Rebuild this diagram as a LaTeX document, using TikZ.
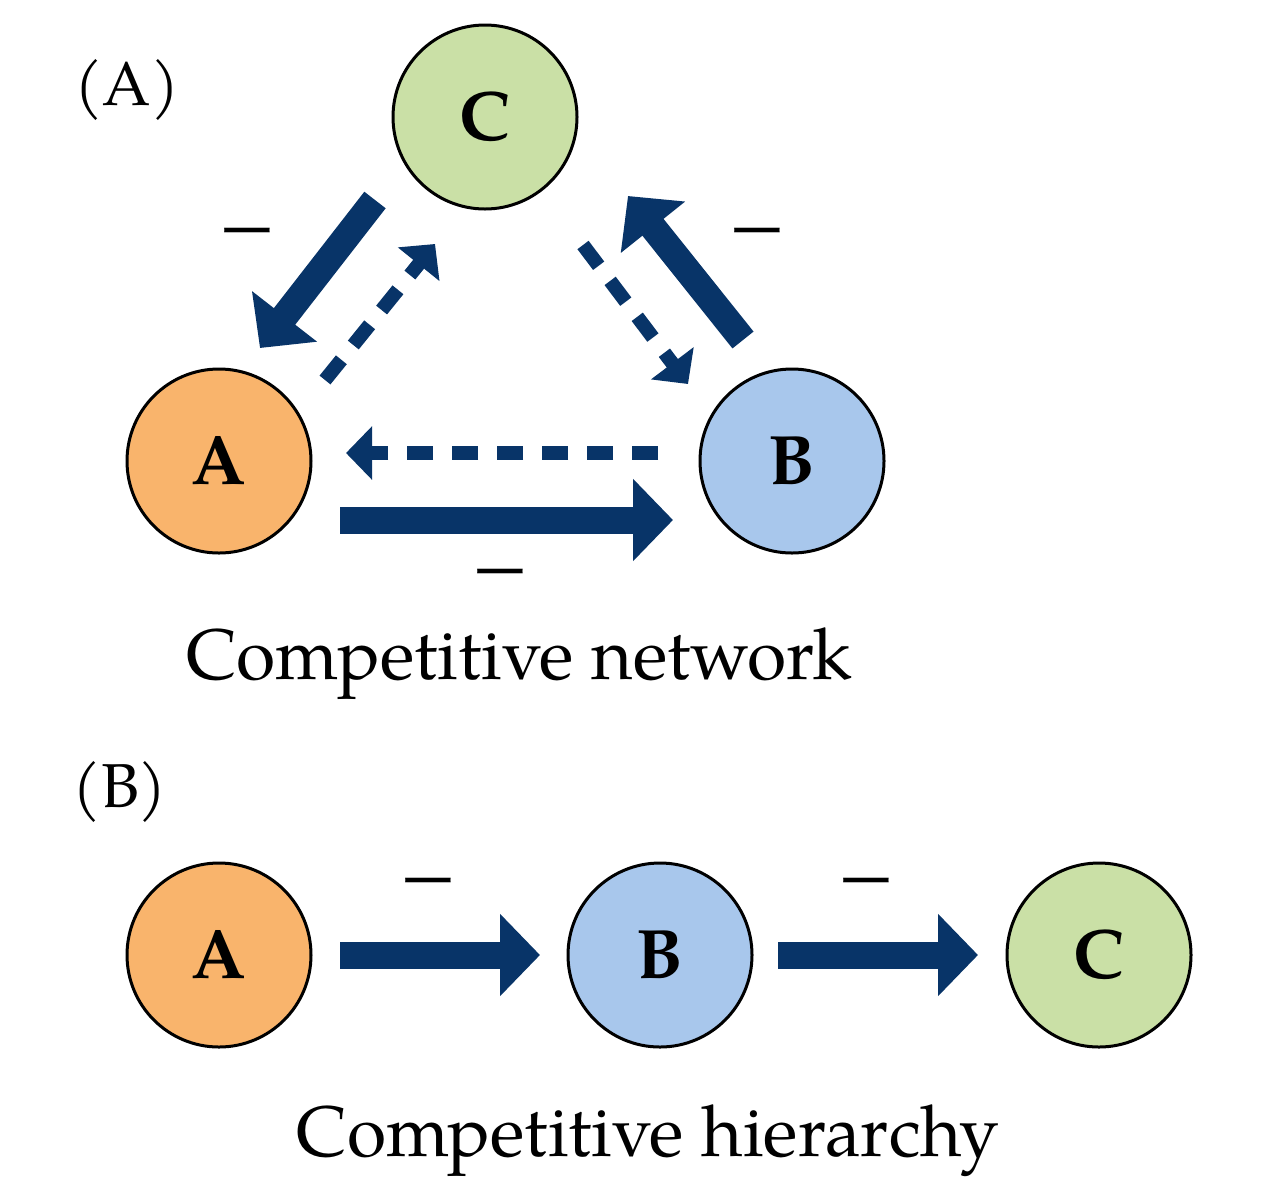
\documentclass[tikz,border=0pt]{standalone}
\usepackage{fontspec}
\setmainfont{TeX Gyre Pagella}
\usetikzlibrary{arrows.meta}
\definecolor{navy}{RGB}{8,52,104}
\definecolor{corange}{RGB}{249,180,108}
\definecolor{cgreen}{RGB}{202,224,166}
\definecolor{cblue}{RGB}{168,199,236}
\tikzset{
  sp/.style={circle, draw=black, line width=1.5pt, minimum size=92pt, inner sep=0pt, font=\fontsize{35}{40}\selectfont\bfseries},
  solidarr/.style={draw=navy, line width=13.5pt, -{Triangle[width=40pt,length=20pt]}},
  dasharr/.style={draw=navy, line width=7pt, dash pattern=on 13pt off 9.5pt, -{Triangle[width=26pt,length=13pt]}},
  minus/.style={font=\fontsize{38}{40}\selectfont, inner sep=0pt},
  captext/.style={font=\fontsize{35.7}{40}\selectfont, inner sep=0pt},
  panel/.style={font=\fontsize{31}{36}\selectfont, inner sep=0pt}
}
\begin{document}
\begin{tikzpicture}[x=0.5pt,y=-0.5pt]
\useasboundingbox[fill=white] (0,0) rectangle (1278,1200);
% Panel A
\node[panel] (la) at (127,90) {(A)};
\node[sp, fill=cgreen] (C) at (485,117) {C};
\node[sp, fill=corange] (A) at (219,461) {A};
\node[sp, fill=cblue] (B) at (792,461) {B};
\coordinate (ca0) at (375,200); \coordinate (ca1) at (260,348);
\coordinate (ac0) at (325,380); \coordinate (ac1) at (435,244);
\coordinate (bc0) at (743,340); \coordinate (bc1) at (628,196);
\coordinate (cb0) at (583,245); \coordinate (cb1) at (688,384);
\coordinate (ba0) at (658,453); \coordinate (ba1) at (346,453);
\coordinate (ab0) at (340,520); \coordinate (ab1) at (673,520);
\draw[solidarr] (ca0) -- (ca1);
\draw[dasharr] (ac0) -- (ac1);
\draw[solidarr] (bc0) -- (bc1);
\draw[dasharr] (cb0) -- (cb1);
\draw[dasharr] (ba0) -- (ba1);
\draw[solidarr] (ab0) -- (ab1);
\node[minus] (m1) at (247,239) {−};
\node[minus] (m2) at (757,239) {−};
\node[minus] (m3) at (500,580) {−};
\node[captext] (t1) at (519,664) {Competitive network};
% Panel B
\node[panel] (lb) at (120,792) {(B)};
\node[sp, fill=corange] (A2) at (219,955) {A};
\node[sp, fill=cblue] (B2) at (660,955) {B};
\node[sp, fill=cgreen] (C2) at (1099,955) {C};
\coordinate (p0) at (340,955); \coordinate (p1) at (540,955);
\coordinate (q0) at (778,955); \coordinate (q1) at (978,955);
\draw[solidarr] (p0) -- (p1);
\draw[solidarr] (q0) -- (q1);
\node[minus] (m4) at (428,889) {−};
\node[minus] (m5) at (866,889) {−};
\node[captext] (t2) at (648,1141) {Competitive hierarchy};
\end{tikzpicture}
\end{document}
